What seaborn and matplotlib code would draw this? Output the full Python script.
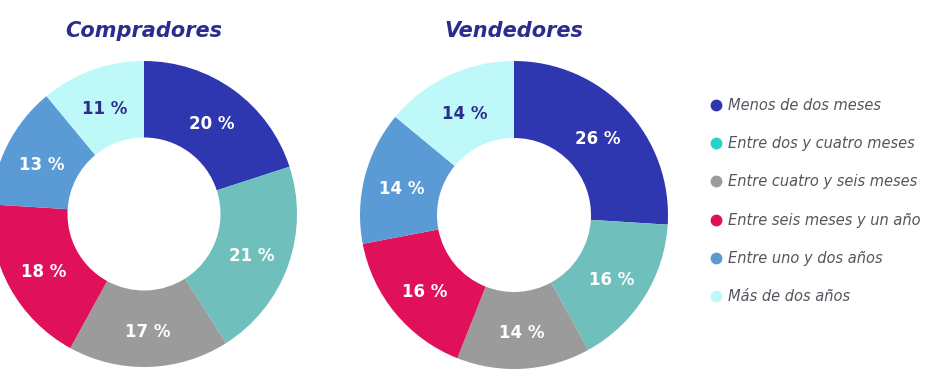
import numpy as np
import matplotlib
matplotlib.use("Agg")
import matplotlib.pyplot as plt
from matplotlib.lines import Line2D
import seaborn as sns

# data
categories = ["Menos de dos meses", "Entre dos y cuatro meses", "Entre cuatro y seis meses",
              "Entre seis meses y un año", "Entre uno y dos años", "Más de dos años"]
compradores = [20, 21, 17, 18, 13, 11]
vendedores = [26, 16, 14, 16, 14, 14]
titles = ["Compradores", "Vendedores"]

slice_colors = ["#2f37b0", "#6fc0bd", "#9b9b9b", "#e0115a", "#5b9bd5", "#bff8f8"]
legend_colors = ["#2f37b0", "#26d3c6", "#9b9b9b", "#e0115a", "#5b9bd5", "#bff8f8"]
navy = "#2b2d8c"

sns.set_theme(style="white")
plt.rcParams["font.family"] = ["DejaVu Sans"]

fig = plt.figure(figsize=(9.28, 3.72), dpi=100)

# (center x px, center y px from top, radius px)
layout = [(144, 214, 153), (514, 215, 154)]
W, H = 928, 372

for values, title, (cx, cy, r) in zip([compradores, vendedores], titles, layout):
    ax = fig.add_axes([(cx - r) / W, (H - cy - r) / H, 2 * r / W, 2 * r / H])
    wedges, _ = ax.pie(values, colors=slice_colors, startangle=90, counterclock=False,
                       radius=1, wedgeprops=dict(width=0.5, linewidth=0))
    # labels in the middle of the ring; dark text on the pale slice
    for i, (w, v) in enumerate(zip(wedges, values)):
        ang = np.deg2rad((w.theta1 + w.theta2) / 2)
        col = navy if i == len(values) - 1 else "white"
        ax.text(0.75 * np.cos(ang), 0.75 * np.sin(ang) - 0.02, f"{v} %", ha="center", va="center",
                color=col, fontsize=12, fontweight="bold")
    ax.set_xlim(-1, 1)
    ax.set_ylim(-1, 1)
    ax.set_aspect("equal")
    ax.axis("off")
    for a in ax.patches + ax.texts:
        a.set_clip_on(False)
    fig.text(cx / W, 1 - 31 / H, title, ha="center", va="center", fontsize=15,
             fontweight="bold", fontstyle="italic", color=navy)

handles = [Line2D([], [], marker="o", linestyle="", markersize=7.5, color=c) for c in legend_colors]
leg = fig.legend(handles, categories, loc="center left", bbox_to_anchor=(702 / W, 1 - 201 / H),
                 frameon=False, fontsize=10.5, labelspacing=1.6, handletextpad=0.25,
                 handlelength=1.1, borderaxespad=0)
for t in leg.get_texts():
    t.set_fontstyle("italic")
    t.set_color("#55555f")

fig.savefig("out.png", dpi=100)
